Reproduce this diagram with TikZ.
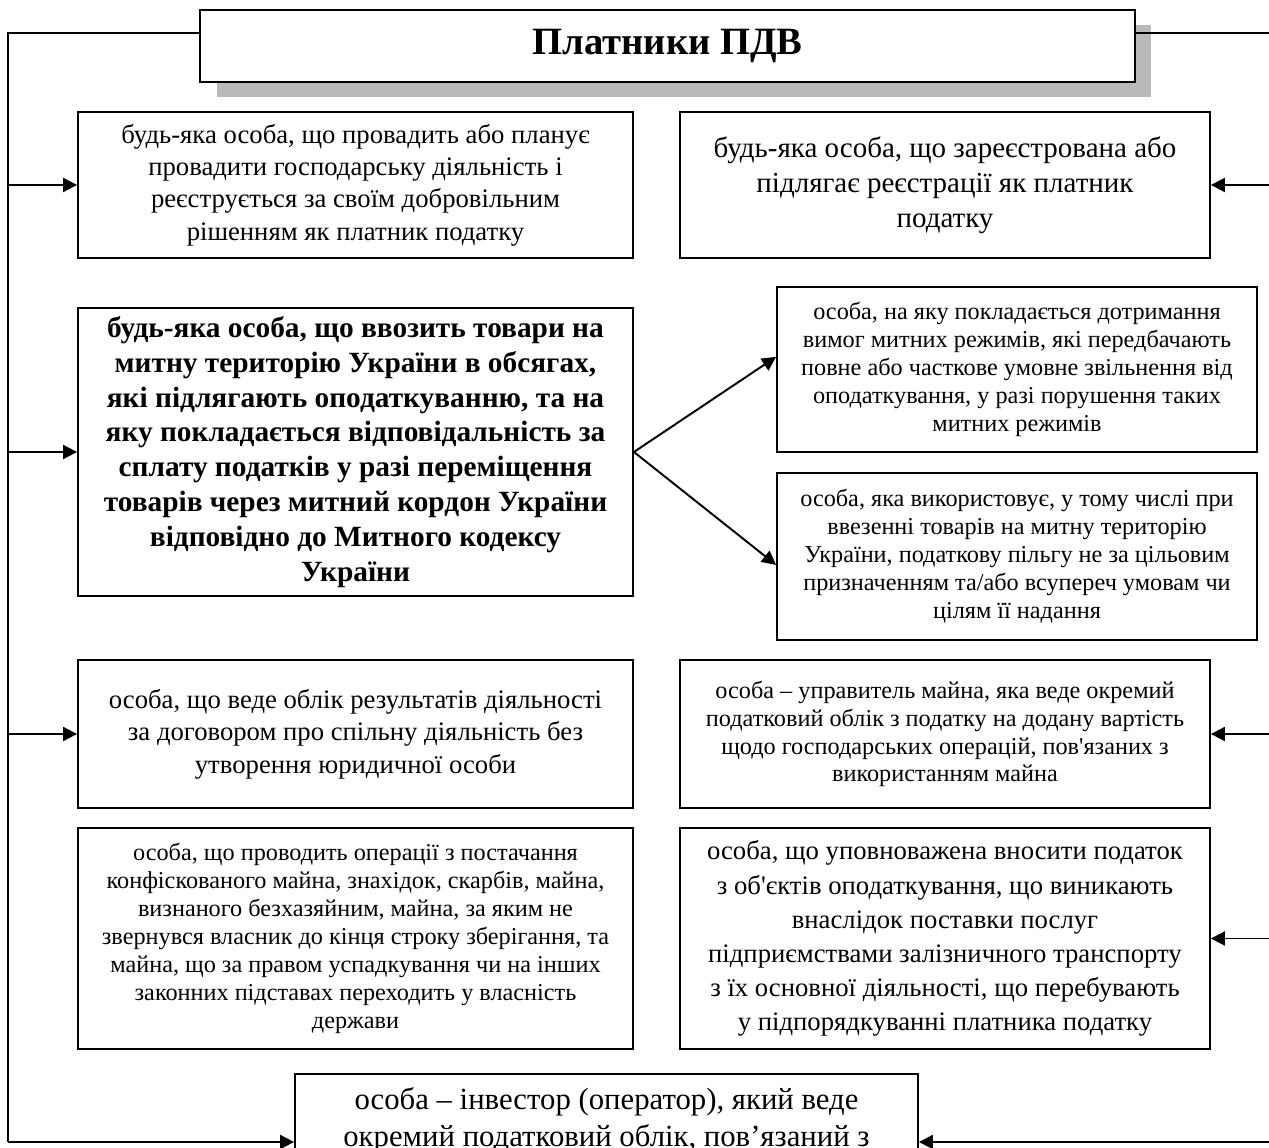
\documentclass[tikz,border=0pt]{standalone}
\usepackage{fontspec}
\setmainfont{Liberation Serif}[Ligatures=TeXOff]
\usetikzlibrary{arrows.meta,shadows}

\tikzset{
  bx/.style={draw, line width=1.1pt, align=center, inner sep=0pt},
  fa/.style={font=\fontsize{13.8}{15.9}\selectfont},
  fb/.style={font=\fontsize{15.2}{18.4}\selectfont},
  fc/.style={font=\fontsize{16.5}{20}\selectfont},
  ln/.style={line width=1.1pt},
  arr/.style={-{Triangle[length=8pt,width=8pt]}, line width=1.1pt},
}

\begin{document}
\begin{tikzpicture}[x=0.02cm,y=-0.02cm]
  \path[use as bounding box,clip] (0,0) rectangle (1269,1148);

  \node[bx, drop shadow={shadow xshift=0.33cm, shadow yshift=-0.31cm, opacity=1, fill=black!27},
        fill=white, minimum width=18.7cm, minimum height=1.44cm,
        font=\fontsize{22}{26}\selectfont\bfseries] (t) at (667.5,46) {Платники ПДВ};

  \node[bx, fb, minimum width=11.1cm, minimum height=2.92cm] (l1) at (355.5,185)
    {будь-яка особа, що провадить або планує\\ провадити господарську діяльність і\\
     реєструється за своїм добровільним\\ рішенням як платник податку};
  \node[bx, fc, minimum width=10.6cm, minimum height=2.92cm] (r1) at (945,185)
    {будь-яка особа, що зареєстрована або\\ підлягає реєстрації як платник\\ податку};

  \node[bx, font=\fontsize{16.7}{19.8}\selectfont\bfseries, minimum width=11.1cm, minimum height=5.76cm] (l2) at (355.5,452)
    {будь-яка особа, що ввозить товари на\\ митну територію України в обсягах,\\
     які підлягають оподаткуванню, та на\\ яку покладається відповідальність за\\
     сплату податків у разі переміщення\\ товарів через митний кордон України\\
     відповідно до Митного кодексу\\ України};
  \node[bx, fa, minimum width=9.6cm, minimum height=3.3cm] (r2) at (1017,369.5)
    {особа, на яку покладається дотримання\\ вимог митних режимів, які передбачають\\
     повне або часткове умовне звільнення від\\ оподаткування, у разі порушення таких\\
     митних режимів};
  \node[bx, fa, minimum width=9.6cm, minimum height=3.34cm] (r3) at (1017,556.5)
    {особа, яка використовує, у тому числі при\\ ввезенні товарів на митну територію\\
     України, податкову пільгу не за цільовим\\ призначенням та/або всупереч умовам чи\\
     цілям її надання};

  \node[bx, fb, minimum width=11.1cm, minimum height=2.96cm] (l3) at (355.5,734)
    {особа, що веде облік результатів діяльності\\ за договором про спільну діяльність без\\
     утворення юридичної особи};
  \node[bx, fa, minimum width=10.6cm, minimum height=2.96cm] (r4) at (945,734)
    {особа – управитель майна, яка веде окремий\\ податковий облік з податку на додану вартість\\
     щодо господарських операцій, пов'язаних з\\ використанням майна};

  \node[bx, fa, minimum width=11.1cm, minimum height=4.42cm] (l4) at (355.5,938.5)
    {особа, що проводить операції з постачання\\ конфіскованого майна, знахідок, скарбів, майна,\\
     визнаного безхазяйним, майна, за яким не\\ звернувся власник до кінця строку зберігання, та\\
     майна, що за правом успадкування чи на інших\\ законних підставах переходить у власність\\ держави};
  \node[bx, font=\fontsize{15.2}{19.4}\selectfont, minimum width=10.6cm, minimum height=4.42cm] (r5) at (945,938.5)
    {особа, що уповноважена вносити податок\\ з об'єктів оподаткування, що виникають\\
     внаслідок поставки послуг\\ підприємствами залізничного транспорту\\
     з їх основної діяльності, що перебувають\\ у підпорядкуванні платника податку};

  \node[bx, font=\fontsize{17.5}{21}\selectfont, anchor=north, minimum width=12.46cm, inner ysep=0.28cm] (b) at (606.5,1073)
    {особа – інвестор (оператор), який веде\\ окремий податковий облік, пов’язаний з};

  \coordinate (tl) at (8,33);
  \coordinate (tr) at (1280,33);
  \coordinate (bl) at (8,1142);
  \coordinate (br) at (1280,1142);

  \draw[ln] (t.west |- tl) -- (tl) -- (bl);
  \draw[ln] (t.east |- tr) -- (tr) -- (br);
  \foreach \n in {l1,l2,l3} \draw[arr] (tl |- \n) -- (\n.west);
  \foreach \n in {r1,r4,r5} \draw[arr] (tr |- \n) -- (\n.east);
  \draw[arr] (bl) -- (b.west |- bl);
  \draw[arr] (br) -- (b.east |- br);
  \draw[arr] (l2.east) -- (r2.177);
  \draw[arr] (l2.east) -- (r3.182);
\end{tikzpicture}
\end{document}
